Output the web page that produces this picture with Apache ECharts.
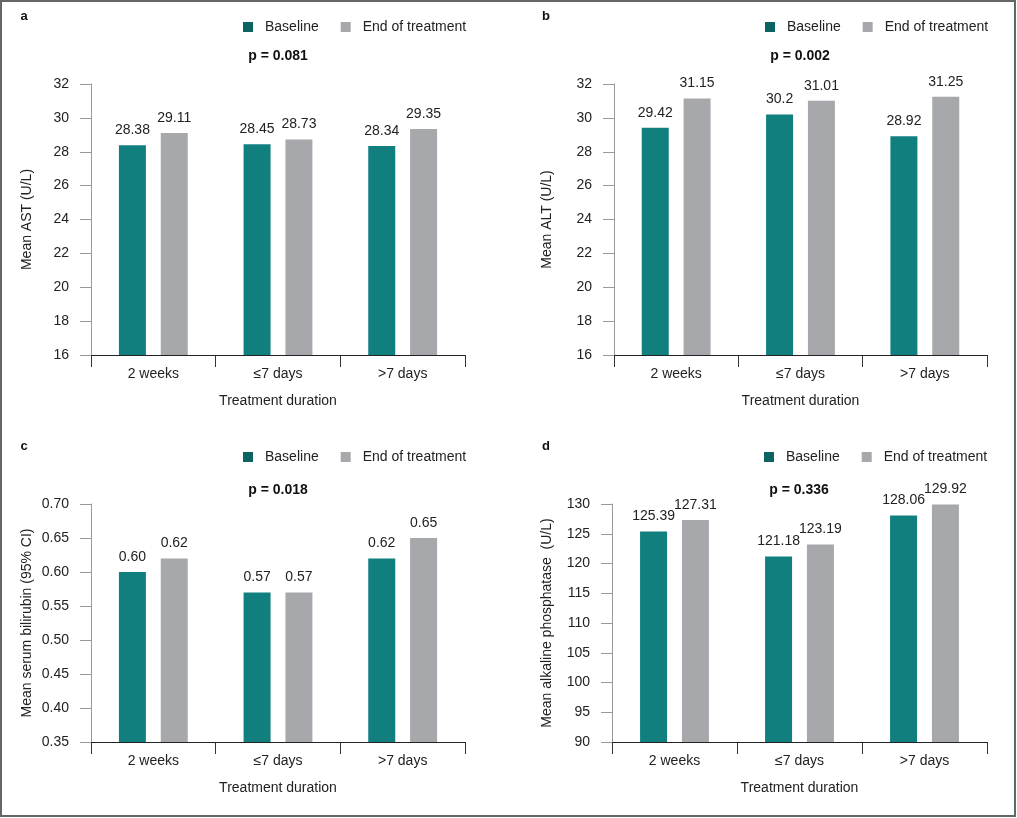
<!DOCTYPE html>
<html>
<head>
<meta charset="utf-8">
<script src="https://cdn.jsdelivr.net/npm/echarts@6/dist/echarts.min.js"></script>
<style>
html,body{margin:0;padding:0;background:#fff;}
#c{width:1017px;height:818px;}
</style>
</head>
<body>
<div id="c"></div>
<script>
const categories = ['2 weeks', '\u22647 days', '>7 days'];
const seriesNames = ['Baseline', 'End of treatment'];

const astBaseline = [28.38, 28.45, 28.34];
const astEnd = [29.11, 28.73, 29.35];
const altBaseline = [29.42, 30.2, 28.92];
const altEnd = [31.15, 31.01, 31.25];
const biliBaseline = [0.60, 0.57, 0.62];
const biliEnd = [0.62, 0.57, 0.65];
const alpBaseline = [125.39, 121.18, 128.06];
const alpEnd = [127.31, 123.19, 129.92];

const panelLetters = ['a', 'b', 'c', 'd'];
const pValues = ['p = 0.081', 'p = 0.002', 'p = 0.018', 'p = 0.336'];
const yNames = ['Mean AST (U/L)', 'Mean ALT (U/L)', 'Mean serum bilirubin (95% CI)', 'Mean alkaline phosphatase  (U/L)'];
const xName = 'Treatment duration';
const yRanges = [[16, 32, 2], [16, 32, 2], [0.35, 0.70, 0.05], [90, 130, 5]];
const decimals = [null, null, 2, null];

const FONT = "'Liberation Sans', Arial, sans-serif";
const TEAL = '#107f7e';
const GRAY = '#a7a8ab';

const grids = [
  {left: 91, top: 84, width: 374, height: 271},
  {left: 614, top: 84, width: 373, height: 271},
  {left: 91, top: 504, width: 374, height: 238},
  {left: 612, top: 504, width: 375, height: 238}
];
const nameGaps = [57, 60, 57, 58];
const legendPos = [
  {left: 238, top: 15}, {left: 760, top: 15}, {left: 238, top: 445}, {left: 759, top: 445}
];
const letterPos = [[24, 16], [546, 16], [24, 446], [546, 446]];
const pPos = [[278, 56], [800, 56], [278, 490], [799, 490]];

const dataSets = [
  [astBaseline, astEnd], [altBaseline, altEnd], [biliBaseline, biliEnd], [alpBaseline, alpEnd]
];

const option = {
  backgroundColor: '#fff',
  animation: false,
  textStyle: {fontFamily: FONT},
  grid: grids.map(g => Object.assign({containLabel: false}, g)),
  legend: legendPos.map((p, i) => ({
    left: p.left, top: p.top,
    itemWidth: 10, itemHeight: 10, itemGap: 22,
    icon: 'rect',
    textStyle: {fontFamily: FONT, fontSize: 14, color: '#222', padding: [0, 0, 0, 7]},
    data: [
      {name: seriesNames[0], itemStyle: {color: '#0d6362'}},
      {name: seriesNames[1], itemStyle: {color: GRAY}}
    ],
    selectedMode: false
  })),
  xAxis: grids.map((g, i) => ({
    type: 'category', gridIndex: i, data: categories,
    name: xName, nameLocation: 'middle', nameGap: 39,
    nameTextStyle: {fontFamily: FONT, fontSize: 14, color: '#222'},
    axisLine: {lineStyle: {color: '#222', width: 1}},
    axisTick: {show: true, length: 12, lineStyle: {color: '#333'}},
    axisLabel: {fontFamily: FONT, fontSize: 14, color: '#222', margin: 12}
  })),
  yAxis: grids.map((g, i) => ({
    type: 'value', gridIndex: i,
    min: yRanges[i][0], max: yRanges[i][1], interval: yRanges[i][2],
    name: yNames[i], nameLocation: 'middle', nameGap: nameGaps[i], nameRotate: 90,
    nameTextStyle: {fontFamily: FONT, fontSize: 14, color: '#222'},
    axisLine: {show: true, lineStyle: {color: '#999', width: 1}},
    axisTick: {show: true, length: 11, lineStyle: {color: '#999'}},
    splitLine: {show: false},
    axisLabel: {
      fontFamily: FONT, fontSize: 14, color: '#222', margin: 22,
      formatter: v => (decimals[i] != null ? v.toFixed(decimals[i]) : String(Math.round(v)))
    }
  })),
  series: []
};

dataSets.forEach((pair, i) => {
  pair.forEach((vals, k) => {
    option.series.push({
      type: 'bar', name: seriesNames[k],
      xAxisIndex: i, yAxisIndex: i,
      data: vals,
      barWidth: 27, barGap: '55%',
      itemStyle: {color: k === 0 ? TEAL : GRAY},
      label: {
        show: true, position: 'top', distance: 8,
        fontFamily: FONT, fontSize: 14, color: '#222',
        formatter: p => (decimals[i] != null ? p.value.toFixed(decimals[i]) : String(p.value))
      }
    });
  });
});

option.graphic = [].concat(
  panelLetters.map((t, i) => ({
    type: 'text', x: letterPos[i][0], y: letterPos[i][1], silent: true,
    style: {text: t, font: "bold 13px " + FONT, fill: '#111', textAlign: 'center', textVerticalAlign: 'middle'}
  })),
  pValues.map((t, i) => ({
    type: 'text', x: pPos[i][0], y: pPos[i][1], silent: true,
    style: {text: t, font: "bold 14px " + FONT, fill: '#111', textAlign: 'center', textVerticalAlign: 'middle'}
  })),
  [{
    type: 'rect', shape: {x: 1, y: 1, width: 1014, height: 815},
    style: {fill: 'none', stroke: '#666', lineWidth: 2}, silent: true, z: 100
  }]
);

const chart = echarts.init(document.getElementById('c'));
chart.setOption(option);
</script>
</body>
</html>
